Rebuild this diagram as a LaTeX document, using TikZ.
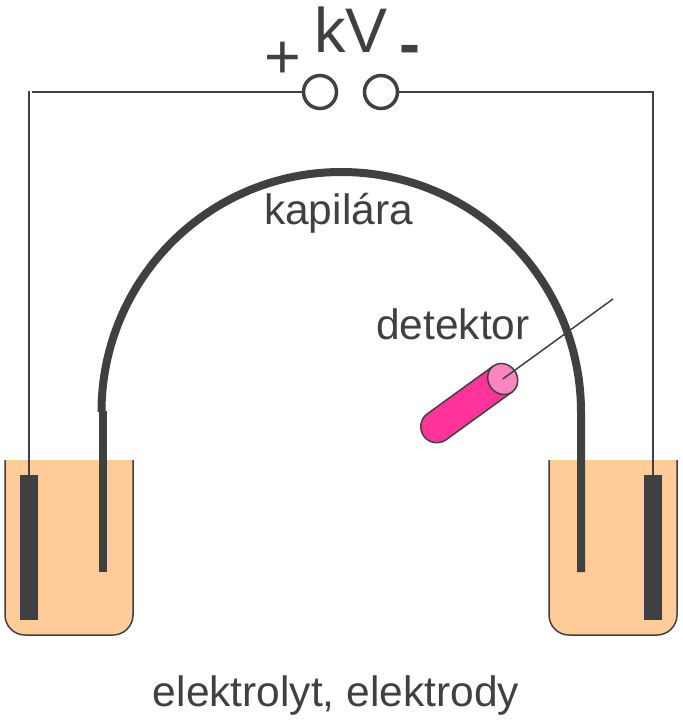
\documentclass[tikz,border=0pt]{standalone}
\usepackage{fontspec}
\setmainfont{Liberation Sans}
\definecolor{ink}{HTML}{404040}
\definecolor{liquid}{HTML}{FFCC99}
\definecolor{pinkdark}{HTML}{FF3399}
\definecolor{pinklight}{HTML}{FF85C2}
\tikzset{
  lbl/.style={text=ink,inner sep=0pt,anchor=base},
  small/.style={font=\fontsize{42.5}{42.5}\selectfont},
  big/.style={font=\fontsize{63}{63}\selectfont},
  terminal/.style={circle,draw=ink,line width=3.5pt,fill=white,minimum size=33pt,inner sep=0pt},
  electrode/.style={rectangle,fill=ink,draw=none,minimum width=18pt,minimum height=145pt,inner sep=0pt},
  wire/.style={draw=ink,line width=1.5pt},
  capil/.style={draw=ink,line width=8pt},
  beaker/.style={draw=ink,fill=liquid,line width=1.5pt,rounded corners=20pt},
  detbody/.style={fill=pinkdark,draw=ink,line width=1.5pt},
  detcap/.style={fill=pinklight,draw=ink,line width=1.5pt},
}
\begin{document}
\begin{tikzpicture}[x=1pt,y=-1pt]
\useasboundingbox (0,0) rectangle (683,721);
% beakers
\foreach \xx in {5,549}{
  \draw[beaker] (\xx,460) -- (\xx,635) -- (\xx+128,635) -- (\xx+128,460);
}
% electrodes
\node[electrode] (el) at (29,547.5) {};
\node[electrode] (er) at (653,547.5) {};
% terminals
\node[terminal] (tl) at (320,92) {};
\node[terminal] (tr) at (381,92) {};
% wires
\coordinate (cl) at (29,91);
\coordinate (cm) at (32,92);
\coordinate (cr) at (653,92);
\draw[wire] (el.north) -- (cl);
\draw[wire] (cm) -- (tl.west);
\draw[wire] (tr.east) -- (cr) -- (er.north);
% capillary
\draw[capil] (102.7,572) -- (102.7,411);
\draw[capil] (101.5,412) arc[start angle=180,end angle=0,x radius=239.75pt,y radius=240pt] -- (581,572);
% detector
\begin{scope}[shift={(502.7,379)},rotate=35.9]
  \draw[detbody] (0,16) -- (-81.4,16) arc[start angle=-90,end angle=-270,radius=16pt] -- (0,-16) -- cycle;
  \node[inner sep=0pt,minimum size=0pt] (probe) at (0,0) {};
  \draw[detcap] (0,0) ellipse[x radius=14.5pt,y radius=16pt];
\end{scope}
\coordinate (pend) at (613,299);
\draw[wire] (probe.center) -- (pend);
% labels
\node[lbl,big] (kv) at (351,52) {kV};
\node[lbl,big] (plus) at (283,78) {+};
\node[lbl,big,font=\fontsize{63}{63}\selectfont\bfseries] (minus) at (410,65) {-};
\node[lbl,small] (kap) at (338.5,224) {kapilára};
\node[lbl,small] (det) at (453,339) {detektor};
\node[lbl,small] (elk) at (336,706) {elektrolyt, elektrody};
\end{tikzpicture}
\end{document}
